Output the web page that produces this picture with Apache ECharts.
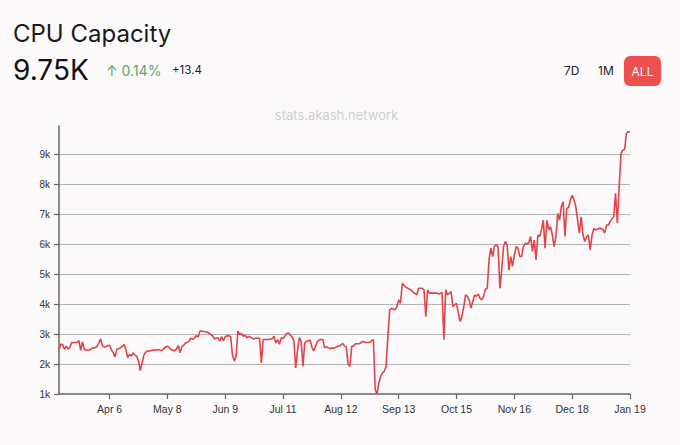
<!DOCTYPE html>
<html>
<head>
<meta charset="utf-8">
<script src="https://cdn.jsdelivr.net/npm/echarts@6/dist/echarts.min.js"></script>
<style>
html,body{margin:0;padding:0;background:#fbf9f9;}
#chart{width:680px;height:445px;}
</style>
</head>
<body>
<div id="chart"></div>
<script>
// ---- data ----
const startDate = '2023-03-09';
const tickLabels = ['Apr 6','May 8','Jun 9','Jul 11','Aug 12','Sep 13','Oct 15','Nov 16','Dec 18','Jan 19'];
const yTicks = ['1k','2k','3k','4k','5k','6k','7k','8k','9k'];
// CPU capacity, thousands of CPUs, one value per day
const cpuK = [
2.48,2.66,2.65,2.50,2.60,2.50,2.55,2.72,2.71,2.72,
2.72,2.78,2.46,2.74,2.50,2.46,2.47,2.47,2.52,2.54,
2.55,2.58,2.70,2.84,2.62,2.56,2.58,2.62,2.63,2.48,
2.38,2.24,2.50,2.51,2.54,2.59,2.65,2.50,2.22,2.32,
2.27,2.37,2.30,2.26,2.10,1.78,2.04,2.30,2.40,2.43,
2.44,2.45,2.47,2.46,2.48,2.48,2.46,2.45,2.52,2.56,
2.60,2.55,2.48,2.46,2.44,2.50,2.62,2.38,2.58,2.63,
2.70,2.72,2.77,2.87,2.82,2.88,2.95,2.90,3.10,3.10,
3.09,3.08,3.06,3.03,2.98,2.94,2.84,2.86,2.88,2.77,
2.92,2.78,2.92,2.94,2.95,2.91,2.30,2.10,2.25,3.10,
2.98,3.02,2.93,2.96,2.88,2.92,2.90,2.86,2.84,2.87,
2.86,2.86,2.04,2.82,2.82,2.82,2.82,2.83,2.84,2.93,
2.70,2.82,2.66,2.88,2.85,2.93,3.02,3.04,2.97,2.90,
2.78,1.87,2.46,2.88,2.76,1.93,2.70,2.76,2.78,2.80,
2.56,2.44,2.60,2.76,2.80,2.82,2.82,2.54,2.58,2.54,
2.51,2.54,2.53,2.55,2.59,2.60,2.63,2.69,2.60,2.58,
1.98,1.93,2.59,2.60,2.68,2.68,2.68,2.70,2.76,2.74,
2.72,2.72,2.72,2.78,2.81,1.14,1.00,1.37,1.59,1.70,
1.76,1.92,2.92,3.81,3.86,3.84,3.81,3.92,4.14,4.03,
4.70,4.62,4.57,4.53,4.50,4.46,4.40,4.36,4.31,4.53,
4.53,4.53,4.48,3.59,4.48,4.37,4.37,4.37,4.37,4.37,
4.34,4.36,4.39,2.81,4.48,4.31,4.36,4.42,3.92,3.98,
4.03,3.70,3.42,3.59,3.92,4.31,4.26,4.14,3.87,4.09,
4.31,4.26,4.34,4.20,4.14,4.26,4.50,4.53,5.48,5.87,
5.59,5.94,5.98,5.92,4.53,5.14,5.92,6.09,5.98,5.14,
5.59,5.26,5.64,5.92,5.87,5.59,5.59,5.92,6.03,6.01,
6.05,6.26,5.76,6.14,5.48,6.31,6.26,6.48,6.81,5.87,
6.81,6.48,6.59,6.31,5.92,6.26,7.03,6.81,7.26,7.42,
6.26,7.20,7.23,7.48,7.64,7.48,7.26,6.81,6.37,6.92,
6.31,6.09,6.26,6.31,5.81,6.31,6.53,6.48,6.50,6.53,
6.53,6.50,6.37,6.64,6.64,6.76,6.85,6.92,7.70,6.70,
7.92,9.03,9.14,9.17,9.70,9.76,9.75
];

// ---- build categories (one per day) ----
const MONTHS = ['Jan','Feb','Mar','Apr','May','Jun','Jul','Aug','Sep','Oct','Nov','Dec'];
const dates = [];
{
  const d0 = new Date(startDate + 'T00:00:00Z');
  for (let i = 0; i < cpuK.length; i++) {
    const d = new Date(d0.getTime() + i * 86400000);
    dates.push(MONTHS[d.getUTCMonth()] + ' ' + d.getUTCDate());
  }
}
const isTick = (idx, val) => tickLabels.indexOf(val) >= 0;

const chart = echarts.init(document.getElementById('chart'), null, {renderer: 'svg'});
const headFont = 'Inter, "Noto Sans", sans-serif';
chart.setOption({
  backgroundColor: '#fbf9f9',
  animation: false,
  grid: {left: 59, right: 50, top: 126, bottom: 51, containLabel: false},
  xAxis: {
    type: 'category',
    data: dates,
    boundaryGap: false,
    axisLine: {lineStyle: {color: '#666', width: 1.5}},
    axisTick: {interval: isTick, length: 5, lineStyle: {color: '#666', width: 1.2}},
    axisLabel: {interval: isTick, color: '#333', fontSize: 10.5, margin: 9,
      fontFamily: '"Liberation Sans", Arial, sans-serif'},
    splitLine: {show: false}
  },
  yAxis: {
    type: 'value',
    min: 1, max: 9.95, interval: 1,
    axisLine: {show: true, lineStyle: {color: '#666', width: 1.5}},
    axisTick: {show: true, length: 5, lineStyle: {color: '#666', width: 1.2}},
    axisLabel: {
      color: '#333', fontSize: 10, margin: 9, showMaxLabel: false,
      fontFamily: '"Liberation Sans", Arial, sans-serif',
      formatter: v => {
        const k = Math.round(v);
        return Math.abs(v - k) < 1e-6 && yTicks[k - 1] ? yTicks[k - 1] : '';
      }
    },
    splitLine: {show: true, showMaxLine: false, showMinLine: false, lineStyle: {color: '#b2b2b2', width: 1.2}}
  },
  series: [{
    type: 'line',
    data: cpuK,
    showSymbol: false,
    symbol: 'none',
    lineStyle: {color: '#e0444a', width: 1.6},
    itemStyle: {color: '#e0444a'}
  }],
  graphic: [
    {type: 'text', left: 13, top: 21, style: {text: 'CPU Capacity', fontSize: 24, fontFamily: headFont, fill: '#1a1a1a', fontWeight: 400}},
    {type: 'text', left: 13, top: 56, style: {text: '9.75K', fontSize: 28, fontFamily: headFont, fill: '#111', fontWeight: 400}},
    {type: 'text', left: 106, top: 63, style: {text: '↑ 0.14%', fontSize: 14, fontFamily: headFont, fill: '#5fa866'}},
    {type: 'text', left: 172, top: 64, style: {text: '+13.4', fontSize: 11.5, fontFamily: headFont, fill: '#222'}},
    {type: 'text', left: 564, top: 64, style: {text: '7D', fontSize: 12, fontFamily: headFont, fill: '#222'}},
    {type: 'text', left: 598, top: 64, style: {text: '1M', fontSize: 12, fontFamily: headFont, fill: '#222'}},
    {type: 'rect', shape: {x: 624, y: 56, width: 37, height: 30, r: 6}, style: {fill: '#ee5050'}},
    {type: 'text', x: 642.5, y: 71, style: {text: 'ALL', fontSize: 12, fontFamily: headFont, fill: '#fff', align: 'center', verticalAlign: 'middle'}},
    {type: 'text', x: 336.5, y: 115, style: {text: 'stats.akash.network', fontSize: 13, fontFamily: headFont, fill: '#cfcfcf', align: 'center', verticalAlign: 'middle'}}
  ]
});
</script>
</body>
</html>
